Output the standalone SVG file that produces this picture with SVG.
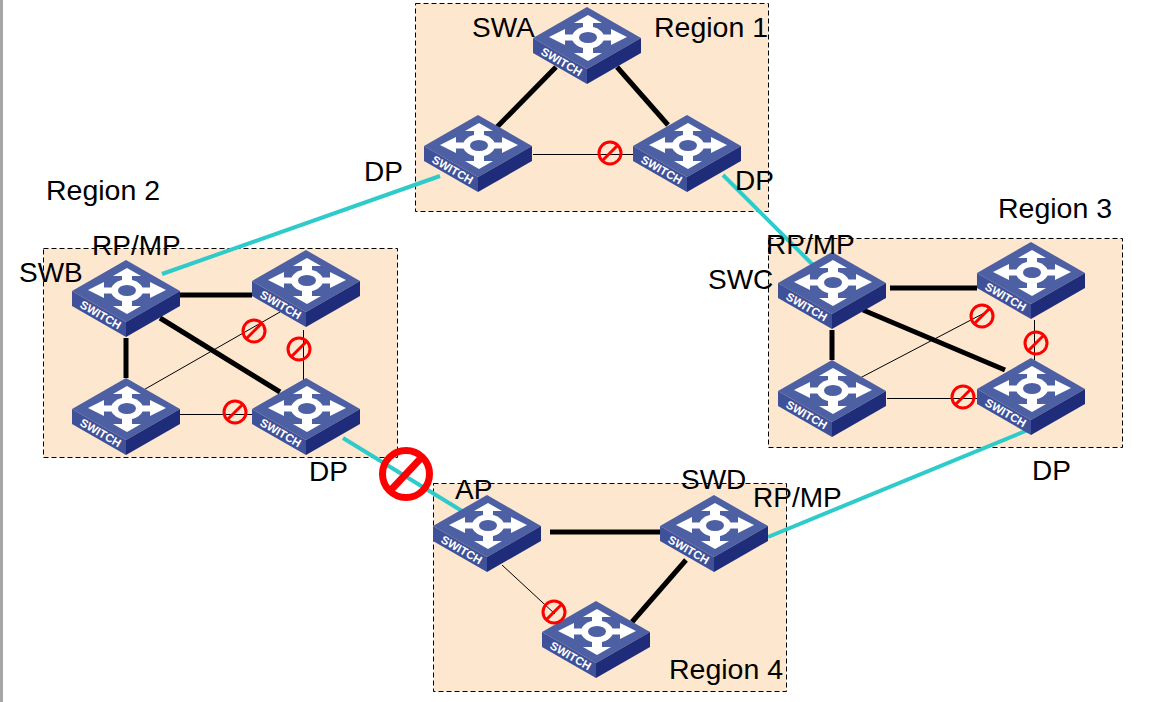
<svg xmlns="http://www.w3.org/2000/svg" width="1150" height="702" viewBox="0 0 1150 702">
<style>
text{font-family:"Liberation Sans",Arial,sans-serif;font-size:28px;fill:#000}
text.rg{font-size:28.500px}
.region{fill:#fee7cf;stroke:#000;stroke-width:1;stroke-dasharray:5 3}
.cy{stroke:#2fcaca;stroke-width:4;fill:none}
.tk{stroke:#000;stroke-width:5;fill:none}
.tn{stroke:#000;stroke-width:1;fill:none}
.no{fill:none;stroke:#f00;stroke-width:3}
.bg{fill:none;stroke:#f00;stroke-width:7}
text.sw{font-size:11.500px;font-weight:bold;fill:#fff}
</style>
<defs>
<g id="switch">
<polygon points="0,0 54,31 0,62 -54,31" fill="#4d60a4"/>
<polygon points="-54,31 0,62 0,77 -54,46" fill="#3f5199"/>
<polygon points="54,31 0,62 0,77 54,46" fill="#1f2c7a"/>
<ellipse cx="1" cy="30.500" rx="16" ry="11" fill="#fff"/>
<path d="M1,8 L15,16 L6,16 L6,46 L15,46 L1,54 L-13,46 L-4,46 L-4,16 L-13,16 Z" fill="#fff"/>
<path d="M-38,30 L-22,22 L-22,27.500 L24,27.500 L24,22 L40,30 L24,38 L24,33.500 L-22,33.500 L-22,38 Z" fill="#fff"/>
<ellipse cx="1" cy="30.500" rx="9" ry="5.500" fill="#4d60a4"/>
</g>
<g id="noSmall"><circle r="11" class="no"/><line x1="-7.500" y1="7.500" x2="7.500" y2="-7.500" class="no"/></g>
</defs>
<rect width="1150" height="702" fill="#fff"/>
<rect x="0" y="0" width="3" height="702" fill="#a6a6a6"/>
<g id="regions">
<rect class="region" x="415.500" y="3.500" width="353" height="208"/>
<rect class="region" x="43.500" y="248.500" width="354" height="209"/>
<rect class="region" x="768.500" y="238.500" width="354" height="209"/>
<rect class="region" x="433.500" y="483.500" width="353" height="208"/>
</g>
<g id="connectors">
<line class="tk" x1="497" y1="127" x2="556" y2="67"/>
<line class="tk" x1="617" y1="67" x2="668" y2="125"/>
<line class="tn" x1="533" y1="154.500" x2="633" y2="154.500"/>
<line class="tk" x1="179" y1="295" x2="252" y2="295"/>
<line class="tk" x1="126" y1="338" x2="126" y2="378"/>
<line class="tk" x1="160" y1="318" x2="280" y2="392"/>
<line class="tn" x1="303.500" y1="330" x2="303.500" y2="380"/>
<line class="tn" x1="180" y1="414.500" x2="252" y2="414.500"/>
<line class="tn" x1="140" y1="392" x2="280" y2="312"/>
<line class="tk" x1="890" y1="288" x2="977" y2="288"/>
<line class="tk" x1="832" y1="330" x2="832" y2="360"/>
<line class="tk" x1="863" y1="310" x2="1005" y2="370"/>
<line class="tn" x1="1034.500" y1="320" x2="1034.500" y2="360"/>
<line class="tn" x1="887" y1="398.500" x2="977" y2="398.500"/>
<line class="tn" x1="860" y1="378" x2="990" y2="310"/>
<line class="tk" x1="550" y1="532" x2="660" y2="532"/>
<line class="tk" x1="686" y1="560" x2="632" y2="622"/>
<line class="tn" x1="502" y1="565" x2="555" y2="614"/>
<line class="cy" x1="162" y1="274" x2="440" y2="176"/>
<line class="cy" x1="723" y1="175" x2="813" y2="265"/>
<line class="cy" x1="343" y1="438" x2="462" y2="511"/>
<line class="cy" x1="768" y1="537" x2="1028" y2="430"/>
</g>
<g id="node-swa" transform="translate(587,7)"><use href="#switch"/><text class="sw" transform="translate(-47,47) rotate(30)">SWITCH</text></g>
<g id="node-r1l" transform="translate(478,115)"><use href="#switch"/><text class="sw" transform="translate(-47,47) rotate(30)">SWITCH</text></g>
<g id="node-r1r" transform="translate(687,115)"><use href="#switch"/><text class="sw" transform="translate(-47,47) rotate(30)">SWITCH</text></g>
<g id="node-swb" transform="translate(126,260)"><use href="#switch"/><text class="sw" transform="translate(-47,47) rotate(30)">SWITCH</text></g>
<g id="node-r2tr" transform="translate(306,250)"><use href="#switch"/><text class="sw" transform="translate(-47,47) rotate(30)">SWITCH</text></g>
<g id="node-r2bl" transform="translate(126,378)"><use href="#switch"/><text class="sw" transform="translate(-47,47) rotate(30)">SWITCH</text></g>
<g id="node-r2br" transform="translate(306,378)"><use href="#switch"/><text class="sw" transform="translate(-47,47) rotate(30)">SWITCH</text></g>
<g id="node-swc" transform="translate(832,252)"><use href="#switch"/><text class="sw" transform="translate(-47,47) rotate(30)">SWITCH</text></g>
<g id="node-r3tr" transform="translate(1031,242)"><use href="#switch"/><text class="sw" transform="translate(-47,47) rotate(30)">SWITCH</text></g>
<g id="node-r3bl" transform="translate(832,360)"><use href="#switch"/><text class="sw" transform="translate(-47,47) rotate(30)">SWITCH</text></g>
<g id="node-r3br" transform="translate(1031,358)"><use href="#switch"/><text class="sw" transform="translate(-47,47) rotate(30)">SWITCH</text></g>
<g id="node-ap" transform="translate(487,495)"><use href="#switch"/><text class="sw" transform="translate(-47,47) rotate(30)">SWITCH</text></g>
<g id="node-swd" transform="translate(714,495)"><use href="#switch"/><text class="sw" transform="translate(-47,47) rotate(30)">SWITCH</text></g>
<g id="node-r4b" transform="translate(596,601)"><use href="#switch"/><text class="sw" transform="translate(-47,47) rotate(30)">SWITCH</text></g>
<g id="blocks">
<use href="#noSmall" x="610" y="153"/>
<use href="#noSmall" x="254" y="331"/>
<use href="#noSmall" x="299" y="349"/>
<use href="#noSmall" x="235" y="412"/>
<use href="#noSmall" x="982" y="316"/>
<use href="#noSmall" x="1036" y="343"/>
<use href="#noSmall" x="963" y="397"/>
<use href="#noSmall" x="554" y="612"/>
<g transform="translate(406,474)"><circle r="23.500" class="bg"/><line x1="-16" y1="17" x2="16" y2="-17" class="bg"/></g>
</g>
<g id="labels">
<text x="472" y="37">SWA</text>
<text class="rg" x="654" y="37">Region 1</text>
<text class="rg" x="46" y="200">Region 2</text>
<text class="rg" x="998" y="218">Region 3</text>
<text class="rg" x="669" y="679">Region 4</text>
<text x="364" y="181">DP</text>
<text x="735" y="190">DP</text>
<text x="92" y="255">RP/MP</text>
<text x="19" y="282">SWB</text>
<text x="766" y="254">RP/MP</text>
<text x="708" y="289">SWC</text>
<text x="309" y="481">DP</text>
<text x="1032" y="480">DP</text>
<text x="455" y="499">AP</text>
<text x="681" y="489">SWD</text>
<text x="753" y="507">RP/MP</text>
</g>
</svg>
